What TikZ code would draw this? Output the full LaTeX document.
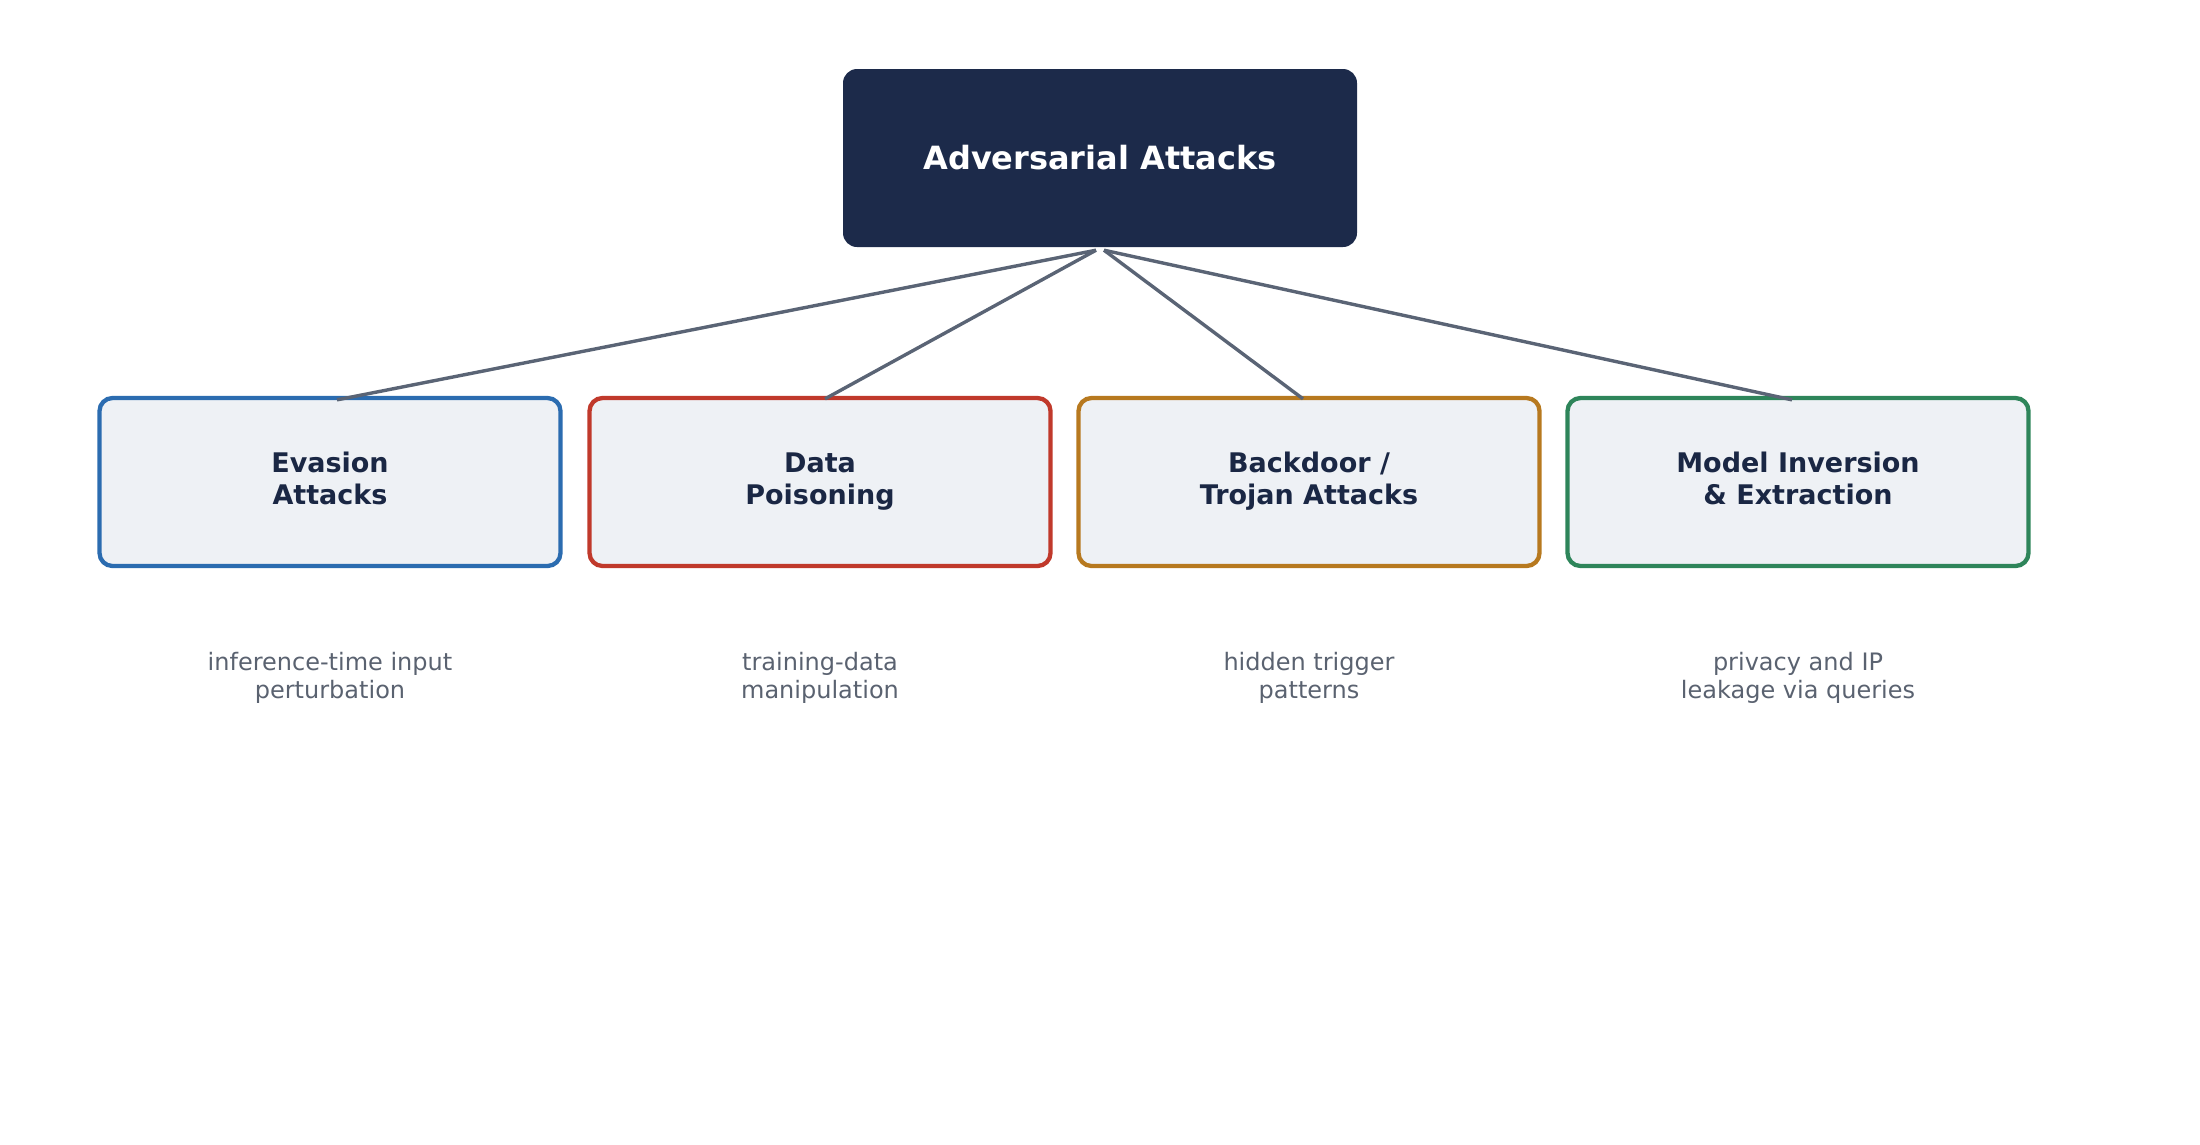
\documentclass[tikz,border=0pt]{standalone}
\usepackage{fontspec}
\setmainfont{DejaVu Sans}
\definecolor{navy}{HTML}{1C2A4A}
\definecolor{navytext}{HTML}{1A2744}
\definecolor{boxfill}{HTML}{EEF1F5}
\definecolor{cblue}{HTML}{2B6CB0}
\definecolor{cred}{HTML}{C0392B}
\definecolor{corange}{HTML}{B7791F}
\definecolor{cgreen}{HTML}{2E855A}
\definecolor{linegray}{HTML}{5A6475}
\definecolor{descgray}{HTML}{5A6270}
\tikzset{
  rootbox/.style={fill=navy, rounded corners=14pt, minimum width=514pt, minimum height=178pt,
    inner sep=0pt, text=white, font=\fontsize{32}{38}\selectfont\bfseries},
  catbox/.style={fill=boxfill, draw=#1, line width=4.3pt, rounded corners=13pt,
    minimum width=461pt, minimum height=168pt, inner sep=0pt, align=center,
    text=navytext, font=\fontsize{27}{32}\selectfont\bfseries},
  desc/.style={align=center, text=descgray, inner sep=0pt, font=\fontsize{24}{28}\selectfont},
  conn/.style={draw=linegray, line width=3.4pt}
}
\begin{document}
\begin{tikzpicture}[x=1pt,y=-1pt]
\useasboundingbox (0,0) rectangle (2200,1144);
\node[rootbox] (root) at (1100,158) {Adversarial Attacks};
\node[catbox=cblue] (ev) at (330,482) {\strut Evasion\\\strut Attacks};
\node[catbox=cred] (dp) at (820,482) {\strut Data\\\strut Poisoning};
\node[catbox=corange] (bd) at (1309,482) {\strut Backdoor /\\\strut Trojan Attacks};
\node[catbox=cgreen] (mi) at (1798,482) {\strut Model Inversion\\\strut \& Extraction};
\node[desc] (d1) at (330,679) {\strut inference-time input\\\strut perturbation};
\node[desc] (d2) at (820,679) {\strut training-data\\\strut manipulation};
\node[desc] (d3) at (1309,679) {\strut hidden trigger\\\strut patterns};
\node[desc] (d4) at (1798,679) {\strut privacy and IP\\\strut leakage via queries};
\draw[conn] ([xshift=-4pt,yshift=-3pt]root.south) -- ([xshift=7pt,yshift=-4pt]ev.north);
\draw[conn] ([xshift=-4pt,yshift=-3pt]root.south) -- ([xshift=5pt,yshift=-3pt]dp.north);
\draw[conn] ([xshift=4pt,yshift=-3pt]root.south) -- ([xshift=-6pt,yshift=-3pt]bd.north);
\draw[conn] ([xshift=4pt,yshift=-3pt]root.south) -- ([xshift=-6pt,yshift=-4pt]mi.north);
\end{tikzpicture}
\end{document}
